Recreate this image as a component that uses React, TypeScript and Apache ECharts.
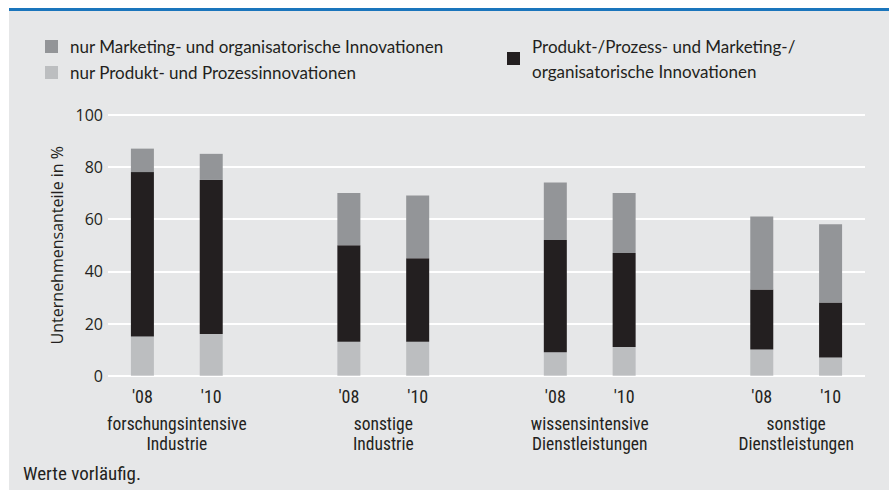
import React, { useEffect, useRef } from "react";
import * as echarts from "echarts";

const groups = [
  "forschungsintensive\nIndustrie",
  "sonstige\nIndustrie",
  "wissensintensive\nDienstleistungen",
  "sonstige\nDienstleistungen",
];
const years = ["'08", "'10"];
// values per bar (group order, '08 then '10)
const nurProduktProzess = [15, 16, 13, 13, 9, 11, 10, 7];
const produktUndMarketing = [63, 59, 37, 32, 43, 36, 23, 21];
const nurMarketingOrg = [9, 10, 20, 24, 22, 23, 28, 30];
const yTicks = [0, 20, 40, 60, 80, 100];

const seriesNames = [
  "nur Produkt- und Prozessinnovationen",
  "Produkt-/Prozess- und Marketing-/\norganisatorische Innovationen",
  "nur Marketing- und organisatorische Innovationen",
];

const FONT_AXIS = "'Liberation Sans Narrow', 'Roboto Condensed', Lato, sans-serif";
const FONT_MAIN = "'Open Sans', sans-serif";
const FONT_LEGEND = "Lato, sans-serif";
const TEXT = "#231f20";

function buildSlots<T>(vals: T[], gap: T): T[] {
  const out: T[] = [];
  groups.forEach((_, g) => {
    years.forEach((_, y) => out.push(vals[g * years.length + y]));
    if (g < groups.length - 1) out.push(gap);
  });
  return out;
}

export default function App() {
  const ref = useRef<HTMLDivElement>(null);
  useEffect(() => {
    document.body.style.margin = "0";
    const chart = echarts.init(ref.current!, undefined, { renderer: "svg" });
    const categories = buildSlots(
      groups.flatMap(() => years),
      ""
    );
    const slotCount = categories.length;
    const groupCenters = groups.map((_, g) => g * (years.length + 1) + years.length / 2);
    const mk = (name: string, vals: number[], color: string) => ({
      name,
      type: "bar",
      stack: "total",
      barWidth: 23,
      xAxisIndex: 0,
      itemStyle: { color },
      data: buildSlots<number | string>(vals, "-"),
    });
    const legendBase = {
      orient: "vertical",
      padding: 0,
      itemWidth: 13,
      itemHeight: 13,
      icon: "rect",
      textStyle: { fontFamily: FONT_LEGEND, fontSize: 17, color: TEXT, padding: [0, 0, 0, 7], lineHeight: 25 },
    };
    chart.setOption({
      animation: false,
      backgroundColor: "#ffffff",
      graphic: [
        { type: "rect", shape: { x: 9, y: 11, width: 880, height: 479 }, style: { fill: "#e6e7e8" }, z: -10 },
        { type: "rect", shape: { x: 9, y: 8, width: 880, height: 3 }, style: { fill: "#1a75bc" }, z: -10 },
      ],
      title: {
        text: "Werte vorläufig.",
        left: 23,
        top: 464,
        padding: 0,
        textStyle: { fontFamily: FONT_AXIS, fontSize: 19, fontWeight: "normal", color: TEXT },
      },
      legend: [
        { ...legendBase, left: 45, top: 34, data: [seriesNames[2]] },
        { ...legendBase, left: 45, top: 60, data: [seriesNames[0]] },
        { ...legendBase, left: 507, top: 33.5, data: [seriesNames[1]] },
      ],
      grid: { left: 108, right: 24, top: 114.7, bottom: 115.3 },
      xAxis: [
        {
          type: "category",
          data: categories,
          axisLine: { show: false },
          axisTick: { show: false },
          axisLabel: { fontFamily: FONT_AXIS, fontSize: 18, color: TEXT, margin: 12, interval: 0 },
        },
        {
          type: "value",
          min: 0,
          max: slotCount,
          position: "bottom",
          axisLine: { show: false },
          axisTick: { show: false },
          splitLine: { show: false },
          axisLabel: {
            customValues: groupCenters,
            formatter: (v: number) => groups[groupCenters.indexOf(v)] ?? "",
            fontFamily: FONT_AXIS,
            fontSize: 17.5,
            lineHeight: 20,
            color: TEXT,
            margin: 38,
          },
        },
      ],
      yAxis: {
        type: "value",
        min: yTicks[0],
        max: yTicks[yTicks.length - 1],
        interval: 20,
        name: "Unternehmensanteile in %",
        nameLocation: "middle",
        nameGap: 43,
        nameTextStyle: { fontFamily: FONT_MAIN, fontSize: 16, color: TEXT },
        axisLine: { show: false },
        axisTick: { show: false },
        axisLabel: { fontFamily: FONT_MAIN, fontSize: 16, color: TEXT, margin: 5 },
        splitLine: { lineStyle: { color: "#ffffff", width: 2 } },
      },
      series: [
        mk(seriesNames[0], nurProduktProzess, "#bcbec0"),
        mk(seriesNames[1], produktUndMarketing, "#231f20"),
        mk(seriesNames[2], nurMarketingOrg, "#939598"),
      ],
    });
    return () => chart.dispose();
  }, []);
  return <div ref={ref} style={{ width: 889, height: 491 }} />;
}
